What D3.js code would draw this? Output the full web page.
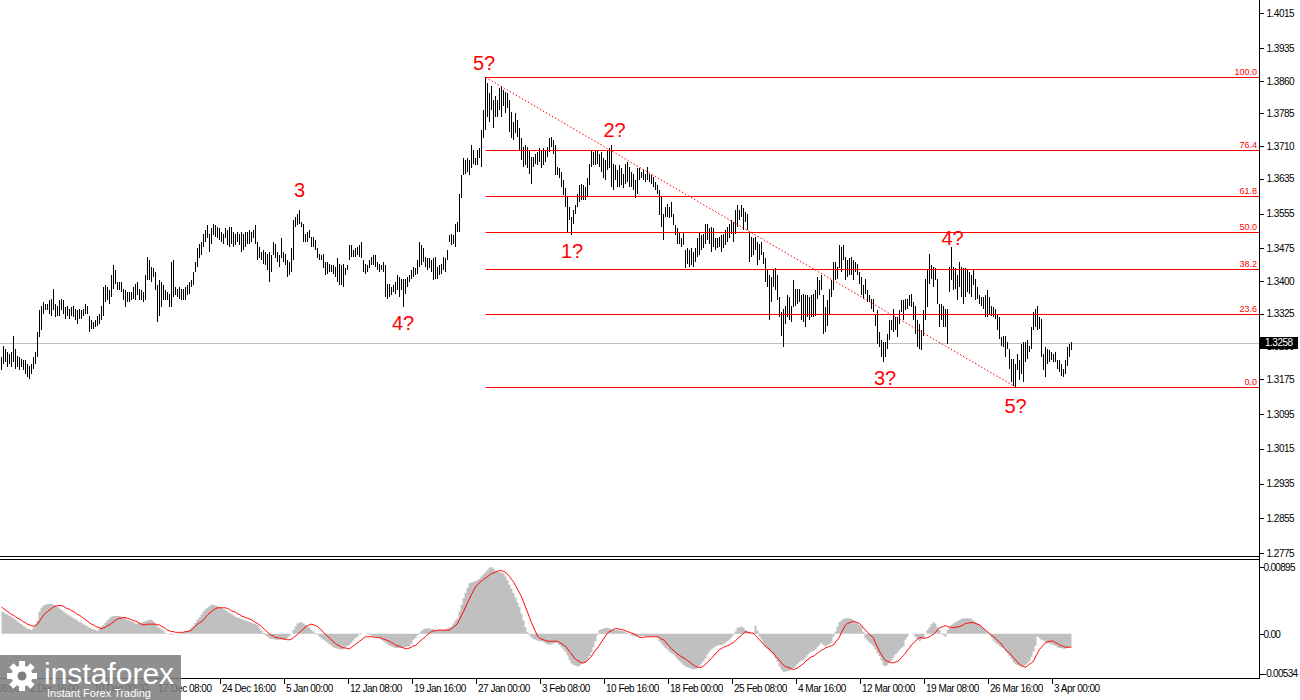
<!DOCTYPE html>
<html><head><meta charset="utf-8">
<script src="https://cdn.jsdelivr.net/npm/d3@7"></script>
<style>html,body{margin:0;padding:0;background:#fff;}svg{display:block;}</style>
</head><body>
<svg id="c" width="1300" height="700"></svg>
<script>
// ---- data: H4 bars (high / low) ----
const barHigh = [
1.3226,1.3252,1.3245,1.3237,1.3233,1.3237,1.3273,1.3245,1.3229,1.3226,
1.3222,1.3218,1.3219,1.3210,1.3206,1.3210,1.3226,1.3237,1.3283,1.3333,
1.3344,1.3352,1.3348,1.3348,1.3356,1.3360,1.3383,1.3348,1.3344,1.3356,
1.3360,1.3356,1.3341,1.3344,1.3337,1.3341,1.3344,1.3337,1.3333,1.3337,
1.3333,1.3337,1.3348,1.3344,1.3321,1.3310,1.3306,1.3310,1.3321,1.3325,
1.3344,1.3387,1.3390,1.3387,1.3379,1.3413,1.3436,1.3425,1.3398,1.3398,
1.3398,1.3383,1.3379,1.3375,1.3375,1.3375,1.3387,1.3394,1.3398,1.3383,
1.3379,1.3375,1.3413,1.3456,1.3448,1.3433,1.3429,1.3421,1.3390,1.3402,
1.3398,1.3390,1.3379,1.3375,1.3371,1.3444,1.3448,1.3387,1.3383,1.3387,
1.3383,1.3383,1.3387,1.3390,1.3398,1.3402,1.3421,1.3444,1.3475,1.3486,
1.3490,1.3509,1.3517,1.3528,1.3509,1.3521,1.3532,1.3528,1.3525,1.3521,
1.3513,1.3509,1.3521,1.3517,1.3525,1.3525,1.3513,1.3509,1.3513,1.3509,
1.3513,1.3509,1.3513,1.3513,1.3517,1.3513,1.3517,1.3528,1.3490,1.3479,
1.3467,1.3471,1.3467,1.3463,1.3467,1.3459,1.3490,1.3486,1.3467,1.3459,
1.3498,1.3467,1.3463,1.3448,1.3444,1.3475,1.3540,1.3548,1.3555,1.3563,
1.3536,1.3532,1.3509,1.3513,1.3517,1.3502,1.3502,1.3494,1.3475,1.3463,
1.3459,1.3463,1.3444,1.3444,1.3440,1.3436,1.3436,1.3433,1.3452,1.3440,
1.3436,1.3440,1.3429,1.3436,1.3482,1.3482,1.3471,1.3475,1.3479,1.3482,
1.3490,1.3448,1.3440,1.3436,1.3448,1.3456,1.3459,1.3459,1.3444,1.3440,
1.3436,1.3444,1.3436,1.3394,1.3394,1.3387,1.3390,1.3398,1.3413,1.3410,
1.3406,1.3406,1.3406,1.3410,1.3413,1.3425,1.3433,1.3429,1.3448,1.3490,
1.3482,1.3475,1.3456,1.3452,1.3452,1.3448,1.3452,1.3456,1.3433,1.3436,
1.3440,1.3456,1.3452,1.3471,1.3505,1.3509,1.3505,1.3532,1.3536,1.3601,
1.3643,1.3682,1.3678,1.3682,1.3678,1.3712,1.3701,1.3682,1.3701,1.3705,
1.3747,1.3793,1.3868,1.3854,1.3831,1.3847,1.3816,1.3824,1.3816,1.3843,
1.3847,1.3839,1.3835,1.3831,1.3816,1.3789,1.3766,1.3785,1.3770,1.3751,
1.3728,1.3709,1.3712,1.3709,1.3701,1.3686,1.3686,1.3693,1.3697,1.3705,
1.3701,1.3705,1.3701,1.3709,1.3728,1.3732,1.3724,1.3712,1.3663,1.3659,
1.3651,1.3632,1.3613,1.3594,1.3571,1.3547,1.3563,1.3574,1.3601,1.3620,
1.3624,1.3620,1.3617,1.3636,1.3670,1.3701,1.3697,1.3701,1.3701,1.3693,
1.3697,1.3682,1.3678,1.3701,1.3705,1.3712,1.3670,1.3666,1.3655,1.3666,
1.3659,1.3647,1.3670,1.3674,1.3663,1.3651,1.3647,1.3632,1.3659,1.3659,
1.3651,1.3655,1.3647,1.3663,1.3647,1.3643,1.3640,1.3628,1.3620,1.3609,
1.3594,1.3555,1.3571,1.3578,1.3571,1.3582,1.3555,1.3528,1.3521,1.3513,
1.3498,1.3513,1.3471,1.3475,1.3471,1.3475,1.3467,1.3475,1.3498,1.3513,
1.3505,1.3509,1.3532,1.3532,1.3521,1.3525,1.3521,1.3498,1.3498,1.3502,
1.3505,1.3509,1.3517,1.3525,1.3532,1.3540,1.3536,1.3563,1.3574,1.3563,
1.3574,1.3567,1.3559,1.3555,1.3513,1.3502,1.3498,1.3502,1.3490,1.3486,
1.3490,1.3467,1.3452,1.3425,1.3413,1.3410,1.3425,1.3429,1.3413,1.3364,
1.3329,1.3337,1.3344,1.3367,1.3364,1.3344,1.3402,1.3383,1.3383,1.3383,
1.3367,1.3371,1.3367,1.3367,1.3364,1.3367,1.3371,1.3379,1.3410,1.3402,
1.3413,1.3367,1.3341,1.3356,1.3383,1.3402,1.3444,1.3444,1.3433,1.3482,
1.3479,1.3482,1.3456,1.3448,1.3452,1.3456,1.3448,1.3444,1.3440,1.3421,
1.3410,1.3390,1.3406,1.3379,1.3367,1.3360,1.3360,1.3325,1.3333,1.3283,
1.3264,1.3260,1.3260,1.3279,1.3310,1.3310,1.3337,1.3318,1.3318,1.3333,
1.3356,1.3356,1.3360,1.3360,1.3367,1.3371,1.3352,1.3344,1.3310,1.3302,
1.3287,1.3333,1.3406,1.3425,1.3463,1.3436,1.3433,1.3429,1.3406,1.3348,
1.3348,1.3344,1.3337,1.3337,1.3433,1.3479,1.3433,1.3429,1.3413,1.3444,
1.3433,1.3429,1.3429,1.3425,1.3421,1.3413,1.3425,1.3406,1.3387,1.3367,
1.3364,1.3364,1.3367,1.3379,1.3364,1.3344,1.3341,1.3337,1.3325,1.3318,
1.3272,1.3275,1.3275,1.3260,1.3245,1.3222,1.3222,1.3210,1.3233,1.3218,
1.3256,1.3260,1.3260,1.3264,1.3252,1.3295,1.3329,1.3337,1.3344,1.3318,
1.3314,1.3233,1.3249,1.3245,1.3241,1.3237,1.3233,1.3237,1.3218,1.3218,
1.3210,1.3199,1.3218,1.3249,1.3256,1.3260];
const barLow = [
1.3195,1.3210,1.3214,1.3202,1.3210,1.3202,1.3214,1.3199,1.3202,1.3195,
1.3202,1.3195,1.3187,1.3179,1.3176,1.3187,1.3199,1.3210,1.3226,1.3271,
1.3287,1.3325,1.3333,1.3333,1.3325,1.3321,1.3333,1.3318,1.3321,1.3321,
1.3333,1.3325,1.3314,1.3321,1.3314,1.3321,1.3318,1.3310,1.3302,1.3314,
1.3314,1.3321,1.3325,1.3325,1.3283,1.3291,1.3291,1.3295,1.3298,1.3302,
1.3310,1.3321,1.3352,1.3356,1.3348,1.3364,1.3383,1.3394,1.3379,1.3379,
1.3375,1.3356,1.3341,1.3352,1.3352,1.3356,1.3360,1.3356,1.3367,1.3356,
1.3356,1.3352,1.3356,1.3402,1.3402,1.3398,1.3410,1.3379,1.3306,1.3321,
1.3341,1.3356,1.3356,1.3356,1.3341,1.3341,1.3364,1.3367,1.3364,1.3360,
1.3356,1.3356,1.3356,1.3367,1.3371,1.3387,1.3390,1.3421,1.3433,1.3452,
1.3459,1.3479,1.3490,1.3498,1.3467,1.3486,1.3505,1.3502,1.3498,1.3494,
1.3490,1.3486,1.3498,1.3482,1.3479,1.3486,1.3479,1.3482,1.3490,1.3482,
1.3467,1.3471,1.3479,1.3486,1.3486,1.3490,1.3498,1.3486,1.3448,1.3452,
1.3448,1.3440,1.3436,1.3425,1.3398,1.3421,1.3459,1.3452,1.3444,1.3433,
1.3452,1.3444,1.3436,1.3410,1.3413,1.3421,1.3448,1.3525,1.3528,1.3532,
1.3525,1.3490,1.3490,1.3490,1.3498,1.3479,1.3479,1.3471,1.3452,1.3448,
1.3448,1.3429,1.3413,1.3417,1.3421,1.3421,1.3417,1.3410,1.3398,1.3390,
1.3390,1.3387,1.3413,1.3425,1.3448,1.3456,1.3456,1.3456,1.3459,1.3456,
1.3452,1.3421,1.3417,1.3421,1.3429,1.3436,1.3436,1.3433,1.3425,1.3421,
1.3425,1.3421,1.3364,1.3360,1.3364,1.3367,1.3375,1.3371,1.3379,1.3364,
1.3379,1.3341,1.3371,1.3387,1.3398,1.3406,1.3410,1.3413,1.3417,1.3433,
1.3436,1.3444,1.3433,1.3425,1.3429,1.3421,1.3402,1.3406,1.3406,1.3413,
1.3417,1.3425,1.3421,1.3448,1.3490,1.3482,1.3486,1.3479,1.3513,1.3513,
1.3590,1.3643,1.3647,1.3651,1.3643,1.3659,1.3670,1.3666,1.3666,1.3682,
1.3663,1.3728,1.3747,1.3778,1.3766,1.3793,1.3751,1.3778,1.3778,1.3793,
1.3778,1.3801,1.3785,1.3797,1.3743,1.3728,1.3724,1.3739,1.3732,1.3701,
1.3678,1.3663,1.3666,1.3659,1.3647,1.3624,1.3663,1.3670,1.3666,1.3674,
1.3659,1.3666,1.3674,1.3686,1.3697,1.3709,1.3693,1.3643,1.3643,1.3636,
1.3617,1.3597,1.3571,1.3513,1.3540,1.3505,1.3532,1.3555,1.3571,1.3582,
1.3586,1.3586,1.3586,1.3594,1.3620,1.3663,1.3666,1.3666,1.3670,1.3663,
1.3651,1.3636,1.3632,1.3655,1.3659,1.3617,1.3609,1.3632,1.3617,1.3617,
1.3620,1.3613,1.3624,1.3628,1.3617,1.3617,1.3609,1.3590,1.3601,1.3632,
1.3636,1.3632,1.3628,1.3632,1.3628,1.3624,1.3617,1.3609,1.3601,1.3551,
1.3525,1.3494,1.3548,1.3548,1.3544,1.3548,1.3528,1.3505,1.3486,1.3486,
1.3479,1.3482,1.3429,1.3440,1.3433,1.3436,1.3433,1.3444,1.3456,1.3459,
1.3471,1.3475,1.3486,1.3494,1.3486,1.3467,1.3479,1.3471,1.3475,1.3479,
1.3467,1.3475,1.3482,1.3490,1.3498,1.3509,1.3490,1.3509,1.3525,1.3540,
1.3548,1.3517,1.3536,1.3517,1.3444,1.3456,1.3459,1.3471,1.3436,1.3448,
1.3459,1.3440,1.3398,1.3387,1.3310,1.3352,1.3387,1.3379,1.3356,1.3318,
1.3275,1.3249,1.3302,1.3318,1.3310,1.3306,1.3341,1.3344,1.3348,1.3352,
1.3310,1.3306,1.3295,1.3318,1.3310,1.3318,1.3318,1.3321,1.3360,1.3367,
1.3379,1.3279,1.3283,1.3298,1.3325,1.3364,1.3379,1.3402,1.3406,1.3429,
1.3421,1.3448,1.3402,1.3410,1.3413,1.3413,1.3402,1.3421,1.3413,1.3394,
1.3367,1.3360,1.3371,1.3352,1.3352,1.3337,1.3329,1.3298,1.3256,1.3249,
1.3225,1.3214,1.3226,1.3245,1.3264,1.3287,1.3283,1.3287,1.3272,1.3302,
1.3329,1.3310,1.3333,1.3337,1.3344,1.3341,1.3310,1.3279,1.3249,1.3245,
1.3241,1.3275,1.3310,1.3341,1.3394,1.3406,1.3387,1.3402,1.3348,1.3295,
1.3310,1.3295,1.3295,1.3256,1.3375,1.3402,1.3379,1.3383,1.3356,1.3387,
1.3364,1.3348,1.3364,1.3375,1.3371,1.3364,1.3390,1.3356,1.3360,1.3348,
1.3344,1.3337,1.3318,1.3318,1.3325,1.3321,1.3318,1.3314,1.3287,1.3268,
1.3252,1.3249,1.3226,1.3245,1.3199,1.3168,1.3160,1.3157,1.3195,1.3172,
1.3187,1.3168,1.3214,1.3222,1.3237,1.3245,1.3287,1.3295,1.3287,1.3291,
1.3226,1.3195,1.3180,1.3210,1.3214,1.3218,1.3214,1.3214,1.3199,1.3191,
1.3183,1.3180,1.3187,1.3206,1.3226,1.3241];

// ---- MACD (histogram = main, red = signal) ----
const macdMain = [
.0030,.0029,.0027,.0026,.0024,.0023,.0021,.0019,.0017,.0015,.0013,.0011,.0009,.0007,.0006,.0005,.0008,.0013,.0018,.0030,
.0035,.0038,.0039,.0040,.0040,.0040,.0039,.0038,.0036,.0034,.0032,.0030,.0028,.0026,.0025,.0023,.0021,.0020,.0018,.0016,
.0015,.0013,.0012,.0010,.0008,.0007,.0006,.0005,.0004,.0007,.0010,.0012,.0015,.0018,.0021,.0023,.0024,.0024,.0024,.0024,
.0023,.0022,.0021,.0019,.0018,.0017,.0016,.0014,.0014,.0015,.0015,.0016,.0017,.0018,.0019,.0019,.0017,.0014,.0010,.0008,
.0006,.0004,.0001,.0000,-.0001,-.0001,-.0001,.0000,.0000,.0001,.0001,.0002,.0003,.0004,.0005,.0008,.0011,.0015,.0019,.0022,
.0026,.0030,.0033,.0035,.0037,.0039,.0039,.0038,.0037,.0036,.0035,.0033,.0032,.0030,.0028,.0027,.0025,.0023,.0022,.0021,
.0020,.0019,.0018,.0017,.0016,.0015,.0014,.0013,.0012,.0008,.0004,.0001,-.0002,-.0004,-.0006,-.0007,-.0007,-.0008,-.0008,-.0008,
-.0008,-.0008,-.0008,-.0006,-.0003,.0000,.0005,.0010,.0014,.0015,.0016,.0014,.0012,.0010,.0008,.0005,.0003,.0001,-.0001,-.0004,
-.0006,-.0008,-.0010,-.0012,-.0014,-.0016,-.0018,-.0019,-.0020,-.0021,-.0021,-.0020,-.0018,-.0016,-.0015,-.0012,-.0009,-.0006,-.0004,-.0001,
.0001,.0000,.0000,-.0001,-.0001,-.0002,-.0003,-.0004,-.0005,-.0006,-.0008,-.0010,-.0012,-.0014,-.0016,-.0017,-.0018,-.0019,-.0019,-.0019,
-.0019,-.0018,-.0018,-.0017,-.0017,-.0013,-.0008,-.0006,-.0002,.0001,.0004,.0006,.0007,.0007,.0007,.0006,.0006,.0005,.0005,.0005,
.0005,.0005,.0005,.0007,.0009,.0010,.0014,.0018,.0021,.0030,.0039,.0048,.0055,.0062,.0068,.0069,.0070,.0071,.0072,.0074,
.0077,.0080,.0083,.0086,.0089,.0090,.0088,.0085,.0084,.0083,.0082,.0081,.0077,.0072,.0066,.0061,.0055,.0049,.0042,.0036,
.0027,.0018,.0009,.0002,-.0002,-.0005,-.0007,-.0008,-.0009,-.0010,-.0010,-.0011,-.0013,-.0014,-.0015,-.0014,-.0013,-.0012,-.0012,-.0015,
-.0018,-.0021,-.0024,-.0029,-.0035,-.0040,-.0042,-.0043,-.0044,-.0043,-.0041,-.0039,-.0038,-.0035,-.0030,-.0025,-.0018,-.0010,-.0002,.0005,
.0006,.0007,.0008,.0008,.0007,.0006,.0006,.0005,.0005,.0004,.0004,.0003,.0002,.0001,.0000,-.0002,-.0003,-.0004,-.0004,-.0004,
-.0003,-.0003,-.0003,-.0003,-.0003,-.0003,-.0004,-.0004,-.0004,-.0010,-.0013,-.0016,-.0019,-.0021,-.0024,-.0026,-.0028,-.0031,-.0034,-.0037,
-.0039,-.0042,-.0044,-.0045,-.0046,-.0047,-.0048,-.0047,-.0046,-.0043,-.0040,-.0037,-.0033,-.0028,-.0024,-.0021,-.0019,-.0017,-.0016,-.0015,
-.0015,-.0014,-.0012,-.0010,-.0008,-.0005,-.0002,.0003,.0008,.0009,.0010,.0008,.0005,.0003,.0002,.0001,.0001,.0011,.0004,-.0004,
-.0008,-.0013,-.0017,-.0020,-.0023,-.0026,-.0028,-.0033,-.0038,-.0044,-.0048,-.0051,-.0051,-.0050,-.0050,-.0048,-.0046,-.0044,-.0041,-.0038,
-.0036,-.0035,-.0032,-.0029,-.0026,-.0024,-.0023,-.0021,-.0018,-.0015,-.0012,-.0015,-.0017,-.0015,-.0014,-.0012,-.0004,.0003,.0010,.0016,
.0018,.0020,.0021,.0021,.0021,.0020,.0018,.0016,.0014,.0012,.0010,.0002,-.0006,-.0009,-.0012,-.0014,-.0017,-.0021,-.0026,-.0030,
-.0036,-.0042,-.0044,-.0042,-.0039,-.0036,-.0032,-.0028,-.0025,-.0022,-.0019,-.0017,-.0008,-.0004,.0000,.0000,-.0001,-.0004,-.0007,-.0010,
-.0008,-.0006,.0000,.0005,.0009,.0013,.0016,.0014,.0009,.0005,.0001,-.0002,-.0004,.0005,.0009,.0012,.0014,.0016,.0017,.0019,
.0020,.0021,.0021,.0021,.0021,.0020,.0018,.0016,.0014,.0012,.0010,.0008,.0005,.0002,-.0001,-.0005,-.0009,-.0012,-.0014,-.0016,
-.0018,-.0019,-.0023,-.0026,-.0030,-.0034,-.0038,-.0041,-.0042,-.0043,-.0044,-.0044,-.0042,-.0040,-.0037,-.0031,-.0024,-.0016,-.0004,-.0006,
-.0008,-.0009,-.0011,-.0012,-.0013,-.0014,-.0015,-.0016,-.0018,-.0019,-.0019,-.0020,-.0020,-.0019,-.0018,-.0017];
const macdSignal = [
.0036,.0034,.0032,.0030,.0028,.0026,.0025,.0023,.0021,.0020,.0018,.0016,.0015,.0013,.0012,.0011,.0010,.0011,.0013,.0017,
.0021,.0025,.0028,.0030,.0032,.0034,.0036,.0037,.0038,.0038,.0038,.0037,.0035,.0034,.0033,.0031,.0030,.0028,.0026,.0025,
.0023,.0021,.0019,.0017,.0015,.0013,.0012,.0010,.0009,.0008,.0007,.0008,.0009,.0011,.0012,.0014,.0016,.0018,.0020,.0021,
.0021,.0022,.0022,.0021,.0020,.0019,.0018,.0017,.0016,.0014,.0013,.0012,.0012,.0013,.0013,.0013,.0013,.0013,.0012,.0012,
.0010,.0009,.0007,.0005,.0004,.0003,.0003,.0002,.0002,.0002,.0002,.0002,.0003,.0003,.0004,.0005,.0008,.0010,.0013,.0015,
.0016,.0019,.0022,.0025,.0028,.0030,.0032,.0034,.0035,.0035,.0035,.0035,.0035,.0034,.0033,.0031,.0030,.0029,.0027,.0026,
.0024,.0023,.0022,.0021,.0020,.0019,.0017,.0015,.0014,.0012,.0010,.0007,.0005,.0002,.0000,-.0002,-.0003,-.0005,-.0005,-.0006,
-.0006,-.0007,-.0007,-.0008,-.0008,-.0007,-.0005,-.0003,-.0001,.0002,.0004,.0007,.0009,.0011,.0012,.0013,.0012,.0011,.0010,.0007,
.0005,.0002,-.0001,-.0003,-.0006,-.0008,-.0011,-.0013,-.0015,-.0016,-.0018,-.0019,-.0019,-.0020,-.0020,-.0018,-.0016,-.0014,-.0012,-.0010,
-.0008,-.0006,-.0004,-.0004,-.0004,-.0004,-.0004,-.0005,-.0005,-.0005,-.0006,-.0007,-.0008,-.0009,-.0010,-.0012,-.0013,-.0015,-.0016,-.0017,
-.0018,-.0019,-.0020,-.0020,-.0019,-.0018,-.0016,-.0016,-.0013,-.0011,-.0008,-.0006,-.0004,-.0001,.0001,.0003,.0004,.0004,.0005,.0005,
.0005,.0005,.0005,.0005,.0005,.0007,.0009,.0011,.0014,.0019,.0025,.0030,.0036,.0042,.0047,.0053,.0058,.0063,.0066,.0069,
.0071,.0073,.0075,.0077,.0079,.0081,.0082,.0083,.0084,.0085,.0085,.0084,.0083,.0080,.0077,.0073,.0070,.0065,.0060,.0055,
.0050,.0043,.0036,.0029,.0022,.0015,.0009,.0003,-.0003,-.0006,-.0007,-.0008,-.0009,-.0010,-.0010,-.0010,-.0010,-.0010,-.0010,-.0012,
-.0013,-.0015,-.0017,-.0020,-.0024,-.0027,-.0031,-.0034,-.0036,-.0037,-.0039,-.0039,-.0038,-.0036,-.0033,-.0030,-.0026,-.0022,-.0019,-.0015,
-.0011,-.0007,-.0003,.0001,.0003,.0004,.0006,.0007,.0007,.0006,.0006,.0005,.0004,.0003,.0002,.0001,.0000,-.0001,-.0003,-.0005,
-.0005,-.0005,-.0004,-.0004,-.0004,-.0004,-.0004,-.0004,-.0004,-.0005,-.0007,-.0008,-.0011,-.0014,-.0017,-.0020,-.0022,-.0025,-.0027,-.0029,
-.0031,-.0032,-.0034,-.0036,-.0038,-.0040,-.0042,-.0044,-.0045,-.0045,-.0045,-.0043,-.0041,-.0038,-.0036,-.0033,-.0030,-.0027,-.0024,-.0021,
-.0020,-.0018,-.0017,-.0016,-.0015,-.0013,-.0012,-.0009,-.0007,-.0004,-.0002,.0001,.0003,.0002,.0002,.0001,.0001,-.0002,-.0005,-.0008,
-.0011,-.0014,-.0017,-.0019,-.0021,-.0024,-.0026,-.0030,-.0033,-.0036,-.0039,-.0042,-.0044,-.0045,-.0046,-.0047,-.0048,-.0047,-.0046,-.0044,
-.0042,-.0040,-.0037,-.0035,-.0033,-.0031,-.0030,-.0028,-.0026,-.0024,-.0022,-.0021,-.0019,-.0018,-.0017,-.0016,-.0015,-.0011,-.0008,-.0004,
.0002,.0007,.0012,.0014,.0015,.0016,.0017,.0016,.0015,.0014,.0011,.0008,.0005,.0002,-.0001,-.0003,-.0006,-.0012,-.0018,-.0024,
-.0028,-.0032,-.0036,-.0037,-.0038,-.0039,-.0039,-.0038,-.0037,-.0035,-.0032,-.0029,-.0026,-.0022,-.0019,-.0015,-.0012,-.0010,-.0007,-.0005,
-.0005,-.0006,-.0006,-.0005,-.0004,-.0002,-.0001,.0002,.0005,.0008,.0009,.0010,.0011,.0010,.0009,.0009,.0008,.0009,.0009,.0010,
.0011,.0012,.0014,.0014,.0015,.0015,.0015,.0014,.0013,.0012,.0010,.0007,.0005,.0003,.0000,-.0002,-.0004,-.0006,-.0009,-.0011,
-.0014,-.0018,-.0021,-.0024,-.0026,-.0029,-.0032,-.0035,-.0038,-.0041,-.0043,-.0044,-.0045,-.0043,-.0041,-.0039,-.0037,-.0031,-.0026,-.0021,
-.0018,-.0015,-.0012,-.0011,-.0010,-.0010,-.0010,-.0012,-.0013,-.0015,-.0016,-.0017,-.0018,-.0018,-.0018,-.0018];

// ---- axes ----
const priceTicks = [1.4015,1.3935,1.3860,1.3785,1.3710,1.3635,1.3555,1.3475,1.3400,1.3325,1.3250,1.3175,1.3095,1.3015,1.2935,1.2855,1.2775];
const macdTicks = [0.00895, 0.00, -0.00534];
const macdTickLabels = ["0.00895","0.00","-0.00534"];
const timeTickBars = [-19,13,45,77,109,141,173,205,237,269,301,333,365,397,429,461,493,525];
const timeTickLabels = ["25 Nov 08:00","2 Dec 16:00","10 Dec 00:00","17 Dec 08:00","24 Dec 16:00","5 Jan 00:00","12 Jan 08:00","19 Jan 16:00","27 Jan 00:00","3 Feb 08:00","10 Feb 16:00","18 Feb 00:00","25 Feb 08:00","4 Mar 16:00","12 Mar 00:00","19 Mar 08:00","26 Mar 16:00","3 Apr 00:00"];
const currentPrice = 1.3258;

// ---- annotations ----
const fibLevels = [0.0, 23.6, 38.2, 50.0, 61.8, 76.4, 100.0];
const fibHighBar = 242, fibLowBar = 507;
const waveLabels = ["5?","3","4?","1?","2?","4?","3?","5?"];
const waveBars   = [241.3,149,200.8,285.3,306.5,475.5,441.8,507];
const wavePrices = [1.3885,1.3593,1.3288,1.3453,1.3731,1.3483,1.3161,1.3097];

// ---- drawing ----
const svg = d3.select('#c');
const plotR = 1259;
const x = d3.scaleLinear().domain([0, barHigh.length-1]).range([1.5, 1.5 + 2*(barHigh.length-1)]);
const y = d3.scaleLinear().domain([1.2775, 1.4015]).range([553.3, 13.3]);
const ym = d3.scaleLinear().domain([-0.00534, 0.00895]).range([673.5, 567.3]);
const FONT = "'Liberation Sans', Arial, sans-serif";

svg.append('rect').attr('width',1300).attr('height',700).attr('fill','#fff');

const main = svg.append('g');
main.append('defs').append('clipPath').attr('id','mc').append('rect').attr('x',0).attr('y',0).attr('width',plotR).attr('height',556);

// current price line
main.append('line').attr('x1',0).attr('x2',plotR).attr('y1',Math.round(y(currentPrice))+0.5).attr('y2',Math.round(y(currentPrice))+0.5)
  .attr('stroke','#c0c0c0').attr('stroke-width',1);

// bars
main.append('g').attr('clip-path','url(#mc)').selectAll('rect').data(barHigh).join('rect')
  .attr('x',(d,i)=>Math.round(x(i)-0.5))
  .attr('y',(d,i)=>Math.round(y(d)))
  .attr('width',1)
  .attr('height',(d,i)=>Math.max(1, Math.round(y(barLow[i]))-Math.round(y(d))))
  .attr('fill','#000').attr('shape-rendering','crispEdges');

// fibonacci
const fHi = barHigh[fibHighBar], fLo = barLow[fibLowBar];
const fg = main.append('g');
fibLevels.forEach(l=>{
  const p = fLo + (fHi-fLo)*l/100;
  const yy = Math.round(y(p))+0.5;
  fg.append('line').attr('x1',Math.round(x(fibHighBar))-0.5).attr('x2',plotR).attr('y1',yy).attr('y2',yy)
    .attr('stroke','#ff0000').attr('stroke-width',1);
  fg.append('text').attr('x',plotR-2).attr('y',yy-2.5).attr('text-anchor','end')
    .attr('font-family',FONT).attr('font-size','9px').attr('fill','#ff0000').text(l.toFixed(1));
});

// trend line (dotted)
main.append('line').attr('x1',x(fibHighBar)).attr('y1',y(fHi)).attr('x2',x(fibLowBar)).attr('y2',y(fLo))
  .attr('stroke','#ff0000').attr('stroke-width',1).attr('stroke-dasharray','1.5,2');

// wave labels
main.append('g').selectAll('text').data(waveLabels).join('text')
  .attr('x',(d,i)=>x(waveBars[i])).attr('y',(d,i)=>y(wavePrices[i]))
  .attr('text-anchor','middle').attr('font-family',FONT).attr('font-size','20px').attr('fill','#ff0000')
  .text(d=>d);

// MACD histogram as a stepped area (one step per bar) + signal line
const zeroY = ym(0);
svg.append('path').datum(macdMain)
  .attr('d', d3.area().x((d,i)=>x(i)).y0(zeroY).y1(d=>ym(d)).curve(d3.curveStep))
  .attr('fill','#c0c0c0').attr('stroke','none');
svg.append('path').datum(macdSignal)
  .attr('d', d3.line().x((d,i)=>x(i)).y(d=>ym(d)))
  .attr('fill','none').attr('stroke','#ff0000').attr('stroke-width',1);

// frames
const fr = svg.append('g').attr('stroke','#000').attr('stroke-width',1).attr('shape-rendering','crispEdges');
fr.append('line').attr('x1',0).attr('x2',plotR).attr('y1',556.5).attr('y2',556.5);
fr.append('line').attr('x1',0).attr('x2',plotR).attr('y1',559.5).attr('y2',559.5);
fr.append('line').attr('x1',0).attr('x2',plotR+0.5).attr('y1',678.5).attr('y2',678.5);
fr.append('line').attr('x1',plotR+0.5).attr('x2',plotR+0.5).attr('y1',0).attr('y2',679);

function styleAxis(g){
  g.select('.domain').remove();
  g.selectAll('line').attr('stroke','#000').attr('shape-rendering','crispEdges');
  g.selectAll('text').attr('font-family',FONT).attr('font-size','10px').attr('letter-spacing','-0.5px').attr('fill','#000');
}
// price axis
svg.append('g').attr('transform',`translate(${plotR+0.5},0)`)
  .call(d3.axisRight(y).tickValues(priceTicks).tickFormat(d3.format('.4f')).tickSize(4).tickPadding(3))
  .call(styleAxis);
// macd axis
const mAx = svg.append('g').attr('transform',`translate(${plotR+0.5},0)`)
  .call(d3.axisRight(ym).tickValues(macdTicks).tickFormat((d,i)=>macdTickLabels[i]).tickSize(4).tickPadding(0))
  .call(styleAxis);
mAx.selectAll('text').attr('letter-spacing','-0.7px');
// time axis
const tAx = svg.append('g').attr('transform','translate(0,678.5)')
  .call(d3.axisBottom(x).tickValues(timeTickBars).tickFormat((d,i)=>timeTickLabels[i]).tickSize(4))
  .call(styleAxis);
tAx.selectAll('text').attr('text-anchor','start').attr('x',2).attr('y',6).attr('dy','0.71em');
tAx.selectAll('.tick line').attr('y2',5);

// current price box
const cy = y(currentPrice);
svg.append('rect').attr('x',plotR+1).attr('y',Math.round(cy)-6).attr('width',38).attr('height',12).attr('fill','#000');
svg.append('text').attr('x',plotR+6).attr('y',cy).attr('dy','0.35em').attr('font-family',FONT).attr('font-size','10px')
  .attr('letter-spacing','-0.5px').attr('fill','#fff').text(d3.format('.4f')(currentPrice));

// watermark logo
const lg = svg.append('g');
lg.append('rect').attr('x',0).attr('y',655).attr('width',181).attr('height',45).attr('fill','#7f7f7f').attr('opacity',0.88);
const gear = lg.append('g').attr('transform','translate(22,676)').attr('fill','#fff');
for(let k=0;k<8;k++){
  gear.append('rect').attr('x',-3).attr('y',-15).attr('width',6).attr('height',7).attr('transform',`rotate(${k*45})`);
}
gear.append('circle').attr('r',10.5);
gear.append('circle').attr('r',4.5).attr('fill','#7f7f7f');
lg.append('text').attr('x',44).attr('y',684).attr('font-family',FONT).attr('font-size','30px').attr('fill','#fff').text('instaforex');
lg.append('text').attr('x',47).attr('y',697).attr('font-family',FONT).attr('font-size','11px').attr('fill','#fff').text('Instant Forex Trading');
</script>
</body></html>
